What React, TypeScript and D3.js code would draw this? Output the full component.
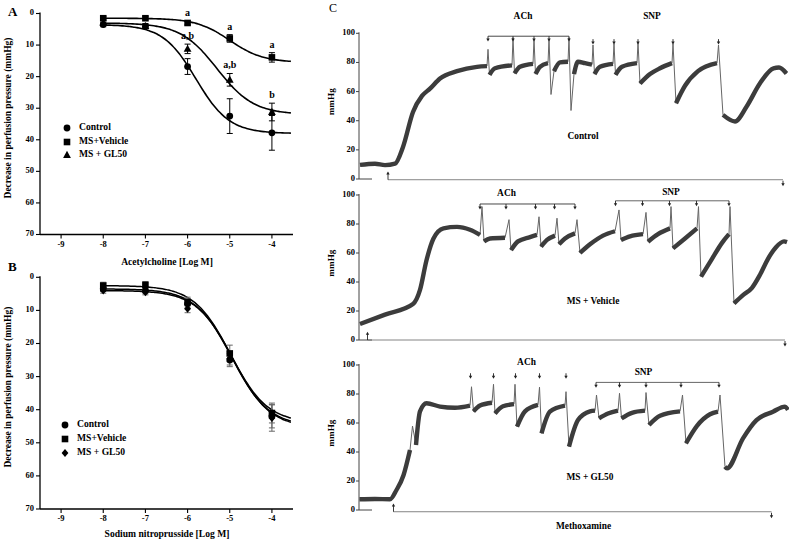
import React from 'react';
import * as d3 from 'd3';

// ---------- Panels A & B: dose–response ----------
const doses = [-8, -7, -6, -5, -4];
const doseTicks = [-9, -8, -7, -6, -5, -4];
const pressureTicks = [0, 10, 20, 30, 40, 50, 60, 70];
const legendNamesA = ['Control', 'MS+Vehicle', 'MS + GL50'];
const legendNamesB = ['Control', 'MS+Vehicle', 'MS + GL50'];

// A: acetylcholine (decrease in perfusion pressure, mmHg)
const achControl = [3.5, 4.0, 16.8, 32.5, 37.8];
const achControlErr = [0.7, 0.7, 2.5, 5.5, 5.5];
const achVehicle = [1.5, 1.5, 3.0, 7.9, 13.9];
const achVehicleErr = [0.5, 0.5, 0.6, 1.2, 1.5];
const achGL50 = [3.0, 4.0, 11.2, 21.0, 31.2];
const achGL50Err = [0.8, 0.8, 1.5, 2.0, 2.8];
// fit parameters: [bottom, top, logEC50, hill]
const achControlFit = [3.5, 38, -5.8, 1.1];
const achVehicleFit = [1.5, 15.5, -5.0, 1.1];
const achGL50Fit = [3.0, 32, -5.3, 1.0];
// significance letters
const achLetterSeries = [1, 1, 1, 2, 2, 2];
const achLetterDose = [-6, -5, -4, -6, -5, -4];
const achLetterText = ['a', 'a', 'a', 'a,b', 'a,b', 'b'];

// B: sodium nitroprusside
const snpControl = [3.5, 4.0, 8.0, 25.0, 42.0];
const snpControlErr = [0.8, 0.8, 1.5, 2.0, 3.5];
const snpVehicle = [2.5, 2.3, 7.5, 23.0, 41.0];
const snpVehicleErr = [1.0, 1.0, 1.5, 2.5, 3.0];
const snpGL50 = [4.0, 4.5, 9.5, 24.5, 42.5];
const snpGL50Err = [0.8, 0.8, 1.2, 2.0, 4.0];
const snpControlFit = [3.5, 45, -4.95, 1.0];
const snpVehicleFit = [2.5, 44, -4.98, 1.0];
const snpGL50Fit = [4.0, 45.5, -4.92, 1.0];

// ---------- Panel C: perfusion pressure traces [time(min), mmHg, thinFlag] ----------
const traceTicks = [0, 20, 40, 60, 80, 100];

const ctrlTrace = [
  [0.2, 9.7], [3.2, 10.5], [5.2, 9.5], [7.2, 10.5], [8.8, 22], [10.8, 46], [12.6, 57], [14.2, 62],
  [16.2, 69], [19.6, 74], [23.6, 77], [25.6, 77.5], [25.8, 89, 1], [26.1, 71.5], [27.2, 76], [30.6, 78],
  [30.8, 97, 1], [31.1, 72.5], [32.2, 77], [34.8, 79], [35.0, 96, 1], [35.3, 72], [36.2, 77], [37.8, 79.5],
  [38.0, 96, 1], [38.4, 58, 1], [39.0, 74], [40.2, 80], [41.8, 80.5], [42.0, 97, 1], [42.4, 47, 1], [43.0, 72],
  [43.8, 80.5], [45.2, 79.5], [46.6, 78.5], [46.8, 92, 1], [47.1, 72], [48.2, 77], [50.8, 79], [51.0, 93, 1],
  [51.3, 71.5], [52.6, 77], [55.6, 79.5], [55.8, 94, 1], [56.2, 65.5], [58.2, 72], [60.2, 76], [62.6, 79.5],
  [62.8, 93, 1], [63.4, 52], [65.2, 64], [67.8, 74], [71.6, 79.5], [71.9, 92, 1], [72.8, 44], [75.2, 39.5],
  [77.5, 49.6], [80.2, 65.7], [82.9, 76], [84.0, 76.5], [85.5, 72.4],
];
const vehTrace = [
  [0.2, 11], [5.2, 17.5], [10.8, 24.8], [12.2, 34.5], [13.5, 55], [14.9, 70], [16.9, 77], [19.6, 78],
  [22.2, 76], [24.2, 72.5], [24.6, 92, 1], [25.0, 68], [26.2, 70], [29.2, 70.5], [30.0, 83, 1], [30.4, 62],
  [31.8, 68], [34.2, 71], [35.6, 72.5], [36.0, 85, 1], [36.4, 64.4], [37.6, 69], [39.2, 72], [39.6, 84, 1],
  [40.0, 66], [41.2, 70], [43.2, 73.5], [43.6, 83, 1], [44.2, 60], [46.2, 66], [48.8, 72], [51.2, 75],
  [52.0, 89.7, 1], [52.4, 69], [54.2, 71.5], [56.8, 73], [57.4, 88, 1], [57.8, 67.8], [59.8, 73], [62.2, 77],
  [62.4, 92, 1], [62.8, 63.2], [65.2, 70], [67.6, 77], [67.9, 92, 1], [68.4, 43.7], [70.6, 56], [72.6, 67],
  [74.0, 73], [74.2, 92, 1], [75.0, 25.3], [76.8, 31], [78.6, 36], [80.2, 45], [81.8, 56], [83.4, 64],
  [85.0, 68], [85.6, 67.5],
];
const glTrace = [
  [0.1, 7.4], [3.2, 7.6], [6.2, 7.4], [7.5, 13.8], [8.9, 24], [10.2, 41.4], [10.7, 57.9, 1], [11.4, 44.8],
  [12.2, 68], [13.5, 73.6], [16.2, 71.3], [19.2, 70.5], [22.2, 72], [22.5, 85, 1], [22.9, 68], [24.2, 72],
  [26.6, 74], [26.9, 86.7, 1], [27.2, 66.6], [28.8, 71.5], [31.0, 73], [31.2, 86.7, 1], [31.6, 57.5],
  [33.2, 68], [35.8, 72.5], [36.1, 84.7, 1], [36.5, 52.9], [38.2, 68], [41.2, 72], [41.4, 81.6, 1],
  [42.0, 43.7], [43.8, 62], [46.2, 68], [47.2, 68.5], [47.5, 79.3, 1], [48.0, 63.2], [49.8, 66.5],
  [51.8, 68.5], [52.1, 80.5, 1], [52.5, 63.2], [54.6, 67], [57.2, 68.5], [57.4, 81, 1], [58.0, 58.6],
  [60.2, 65], [64.2, 68], [64.7, 79.3, 1], [65.4, 46], [67.6, 58], [70.2, 66], [71.8, 67.8],
  [72.2, 79.3, 1], [73.2, 29.9], [73.6, 28.7], [76.8, 49.4], [79.5, 62], [82.8, 67.8], [85.2, 71.3], [85.8, 69],
];

// injection times (min)
const ctrlAch = [25.8, 30.8, 35.0, 38.0, 42.0];
const ctrlSnp = [46.8, 51.0, 55.8, 62.8, 71.9];
const vehAch = [24.2, 29.4, 35.3, 39.1, 43.2];
const vehSnp = [51.3, 56.7, 62.1, 67.5, 74.0];
const glAch = [22.3, 26.9, 31.3, 36.1, 41.4];
const glSnp = [47.4, 52.1, 57.4, 64.4, 72.0];
// methoxamine infusion [start, end]
const ctrlMetho = [5.8, 84.8];
const vehMetho = [1.7, 85.2];
const glMetho = [6.9, 82.5];

const FONT = "'Liberation Serif', 'Times New Roman', serif";

function Marker({ kind, x, y }: { kind: string; x: number; y: number }) {
  if (kind === 'circle') return <circle cx={x} cy={y} r={3.4} fill="#000" />;
  if (kind === 'square') return <rect x={x - 3.3} y={y - 3.3} width={6.6} height={6.6} fill="#000" />;
  if (kind === 'triangle')
    return <path d={`M${x},${y - 4.2}L${x + 3.9},${y + 2.9}L${x - 3.9},${y + 2.9}Z`} fill="#000" />;
  return <path d={`M${x},${y - 4}L${x + 3.4},${y}L${x},${y + 4}L${x - 3.4},${y}Z`} fill="#000" />;
}

const fitCurve = (p: number[]) =>
  d3.range(-8, -3.549, 0.05).map((x) => [x, p[0] + (p[1] - p[0]) / (1 + Math.pow(10, (p[2] - x) * p[3]))]);

type Series = { values: number[]; errs: number[]; fit: number[]; kind: string };

function DosePanel(props: {
  y0: number; y1: number; series: Series[]; names: string[]; legendX: number; legendY: number[];
  xLabel: string; xLabelY: number; letter: string; letterY: number; errColor: string;
  curveWidth: number; letters?: { s: number; d: number; t: string }[];
}) {
  const x = d3.scaleLinear().domain([-9.5, -3.5]).range([40, 293]);
  const y = d3.scaleLinear().domain([0, 70]).range([props.y0, props.y1]);
  const line = d3.line<number[]>().x((d) => x(d[0])).y((d) => y(d[1])).curve(d3.curveBasis);
  return (
    <g fontFamily={FONT} fontWeight="bold">
      <text x={8} y={props.letterY} fontSize={13}>{props.letter}</text>
      <line x1={40} x2={40} y1={y(0) - 1} y2={y(70)} stroke="#000" strokeWidth={1.3} />
      <line x1={40} x2={293} y1={y(70)} y2={y(70)} stroke="#000" strokeWidth={1.3} />
      {pressureTicks.map((t) => (
        <g key={t}>
          <line x1={36} x2={40} y1={y(t)} y2={y(t)} stroke="#000" strokeWidth={1.1} />
          <text x={34} y={y(t)} fontSize={8.5} textAnchor="end" dominantBaseline="middle">{t}</text>
        </g>
      ))}
      {doseTicks.map((t) => (
        <g key={t}>
          <line x1={x(t)} x2={x(t)} y1={y(70)} y2={y(70) + 4} stroke="#000" strokeWidth={1.1} />
          <text x={x(t)} y={y(70) + 12} fontSize={8.5} textAnchor="middle">{t}</text>
        </g>
      ))}
      <text x={167} y={props.xLabelY} fontSize={9.6} textAnchor="middle">{props.xLabel}</text>
      <text transform={`translate(11,${(y(0) + y(70)) / 2 - 6}) rotate(-90)`} fontSize={9.5} textAnchor="middle">
        Decrease in perfusion pressure (mmHg)
      </text>
      {props.series.map((s, i) => (
        <path key={'c' + i} d={line(fitCurve(s.fit)) || ''} fill="none" stroke="#000" strokeWidth={props.curveWidth} />
      ))}
      {props.series.map((s, i) =>
        s.values.map((v, j) => {
          const cx = x(doses[j]);
          return (
            <g key={`e${i}-${j}`} stroke={props.errColor} strokeWidth={1}>
              <line x1={cx} x2={cx} y1={y(v - s.errs[j])} y2={y(v + s.errs[j])} />
              <line x1={cx - 3} x2={cx + 3} y1={y(v - s.errs[j])} y2={y(v - s.errs[j])} />
              <line x1={cx - 3} x2={cx + 3} y1={y(v + s.errs[j])} y2={y(v + s.errs[j])} />
            </g>
          );
        })
      )}
      {props.series.map((s, i) =>
        s.values.map((v, j) => <Marker key={`m${i}-${j}`} kind={s.kind} x={x(doses[j])} y={y(v)} />)
      )}
      {(props.letters || []).map((l, i) => {
        const s = props.series[l.s];
        const j = doses.indexOf(l.d);
        return (
          <text key={'l' + i} x={x(l.d)} y={y(s.values[j] - s.errs[j]) - 5} fontSize={10} fontWeight="bold" textAnchor="middle">
            {l.t}
          </text>
        );
      })}
      {props.series.map((s, i) => (
        <g key={'lg' + i}>
          <Marker kind={s.kind} x={props.legendX} y={props.legendY[i]} />
          <text x={props.legendX + 12} y={props.legendY[i]} fontSize={9.6} dominantBaseline="middle">{props.names[i]}</text>
        </g>
      ))}
    </g>
  );
}

const tScale = d3.scaleLinear().domain([0, 86]).range([359, 789]);

function DownArrow({ x, y }: { x: number; y: number }) {
  return (
    <g>
      <line x1={x} x2={x} y1={y} y2={y + 3.5} stroke="#222" strokeWidth={0.9} />
      <path d={`M${x - 1.7},${y + 2.4}L${x + 1.7},${y + 2.4}L${x},${y + 5.4}Z`} fill="#222" />
    </g>
  );
}
function UpArrow({ x, y }: { x: number; y: number }) {
  return (
    <g>
      <line x1={x} x2={x} y1={y} y2={y - 7} stroke="#222" strokeWidth={0.9} />
      <path d={`M${x - 1.7},${y - 5.2}L${x + 1.7},${y - 5.2}L${x},${y - 8.3}Z`} fill="#222" />
    </g>
  );
}

function TracePanel(props: {
  y0: number; y100: number; trace: number[][]; ach: number[]; achLevel: number; achBracket: boolean;
  snp: number[]; snpLevel: number; snpBracket: boolean; metho: number[]; methoLevel: number;
  labels: { t: number; v: number; text: string }[];
}) {
  const y = d3.scaleLinear().domain([0, 100]).range([props.y0, props.y100]);
  const thin = d3.line<number[]>().x((d) => tScale(d[0])).y((d) => y(d[1]));
  const thick = d3
    .line<number[]>()
    .defined((d) => !d[2])
    .x((d) => tScale(d[0]))
    .y((d) => y(d[1]))
    .curve(d3.curveMonotoneX);
  const my = y(props.methoLevel);
  return (
    <g fontFamily={FONT} fontWeight="bold">
      <line x1={tScale(0)} x2={tScale(0)} y1={y(100) - 1} y2={y(0)} stroke="#444" strokeWidth={1} />
      <line x1={tScale(0)} x2={tScale(2.6)} y1={y(0)} y2={y(0)} stroke="#444" strokeWidth={1} />
      {traceTicks.map((t) => (
        <g key={t}>
          <line x1={tScale(0) - 3} x2={tScale(0)} y1={y(t)} y2={y(t)} stroke="#444" strokeWidth={1} />
          <text x={tScale(0) - 4} y={y(t)} fontSize={8.5} textAnchor="end" dominantBaseline="middle">{t}</text>
        </g>
      ))}
      <text transform={`translate(334,${y(53)}) rotate(-90)`} fontSize={9.2} textAnchor="middle">mmHg</text>
      {/* methoxamine infusion */}
      <line x1={tScale(props.metho[0])} x2={tScale(props.metho[1])} y1={my} y2={my} stroke="#777" strokeWidth={0.9} />
      <UpArrow x={tScale(props.metho[0])} y={my} />
      <DownArrow x={tScale(props.metho[1])} y={my + 1} />
      {/* trace */}
      <path d={thin(props.trace) || ''} fill="none" stroke="#666" strokeWidth={1} />
      <path d={thick(props.trace) || ''} fill="none" stroke="#3c3c3c" strokeWidth={4.4} strokeLinejoin="round" />
      {/* injections */}
      {props.achBracket && (
        <line x1={tScale(props.ach[0])} x2={tScale(props.ach[props.ach.length - 1])} y1={y(props.achLevel)} y2={y(props.achLevel)} stroke="#333" strokeWidth={0.9} />
      )}
      {props.snpBracket && (
        <line x1={tScale(props.snp[0])} x2={tScale(props.snp[props.snp.length - 1])} y1={y(props.snpLevel)} y2={y(props.snpLevel)} stroke="#555" strokeWidth={0.9} />
      )}
      {props.ach.map((t, i) => <DownArrow key={'a' + i} x={tScale(t)} y={y(props.achLevel)} />)}
      {props.snp.map((t, i) => <DownArrow key={'s' + i} x={tScale(t)} y={y(props.snpLevel)} />)}
      {props.labels.map((l, i) => (
        <text key={'t' + i} x={tScale(l.t)} y={y(l.v)} fontSize={9.4} textAnchor="middle" dominantBaseline="middle">{l.text}</text>
      ))}
    </g>
  );
}

export default function App() {
  return (
    <svg width={789} height={541} style={{ position: 'absolute', left: 0, top: 0, background: '#fff' }}>
      <rect width={789} height={541} fill="#fff" />
      <DosePanel
        y0={13.5} y1={234.5}
        series={[
          { values: achControl, errs: achControlErr, fit: achControlFit, kind: 'circle' },
          { values: achVehicle, errs: achVehicleErr, fit: achVehicleFit, kind: 'square' },
          { values: achGL50, errs: achGL50Err, fit: achGL50Fit, kind: 'triangle' },
        ]}
        names={legendNamesA} legendX={67} legendY={[128, 142, 155]}
        xLabel="Acetylcholine [Log M]" xLabelY={265} letter="A" letterY={16} errColor="#000" curveWidth={1.6}
        letters={achLetterText.map((t, i) => ({ s: achLetterSeries[i], d: achLetterDose[i], t }))}
      />
      <DosePanel
        y0={277.3} y1={509}
        series={[
          { values: snpControl, errs: snpControlErr, fit: snpControlFit, kind: 'circle' },
          { values: snpVehicle, errs: snpVehicleErr, fit: snpVehicleFit, kind: 'square' },
          { values: snpGL50, errs: snpGL50Err, fit: snpGL50Fit, kind: 'diamond' },
        ]}
        names={legendNamesB} legendX={65} legendY={[425, 439, 453]}
        xLabel="Sodium nitroprusside [Log M]" xLabelY={537} letter="B" letterY={271} errColor="#666" curveWidth={1.5}
      />
      <text x={329} y={12} fontFamily={FONT} fontSize={12}>C</text>
      <TracePanel
        y0={179} y100={33.3} trace={ctrlTrace}
        ach={ctrlAch} achLevel={98} achBracket={true}
        snp={ctrlSnp} snpLevel={96} snpBracket={false}
        metho={ctrlMetho} methoLevel={-0.5}
        labels={[{ t: 32.8, v: 111, text: 'ACh' }, { t: 58.6, v: 111, text: 'SNP' }, { t: 44.8, v: 29, text: 'Control' }]}
      />
      <TracePanel
        y0={340} y100={195} trace={vehTrace}
        ach={vehAch} achLevel={93.8} achBracket={true}
        snp={vehSnp} snpLevel={96} snpBracket={true}
        metho={vehMetho} methoLevel={0}
        labels={[{ t: 29.5, v: 100.5, text: 'ACh' }, { t: 62.4, v: 101.6, text: 'SNP' }, { t: 46.8, v: 26.4, text: 'MS + Vehicle' }]}
      />
      <TracePanel
        y0={510} y100={365} trace={glTrace}
        ach={glAch} achLevel={94.3} achBracket={false}
        snp={glSnp} snpLevel={88} snpBracket={true}
        metho={glMetho} methoLevel={-1.2}
        labels={[
          { t: 33.5, v: 101.2, text: 'ACh' }, { t: 56.9, v: 94.7, text: 'SNP' },
          { t: 46.2, v: 21.9, text: 'MS + GL50' }, { t: 44.9, v: -11.5, text: 'Methoxamine' },
        ]}
      />
    </svg>
  );
}
